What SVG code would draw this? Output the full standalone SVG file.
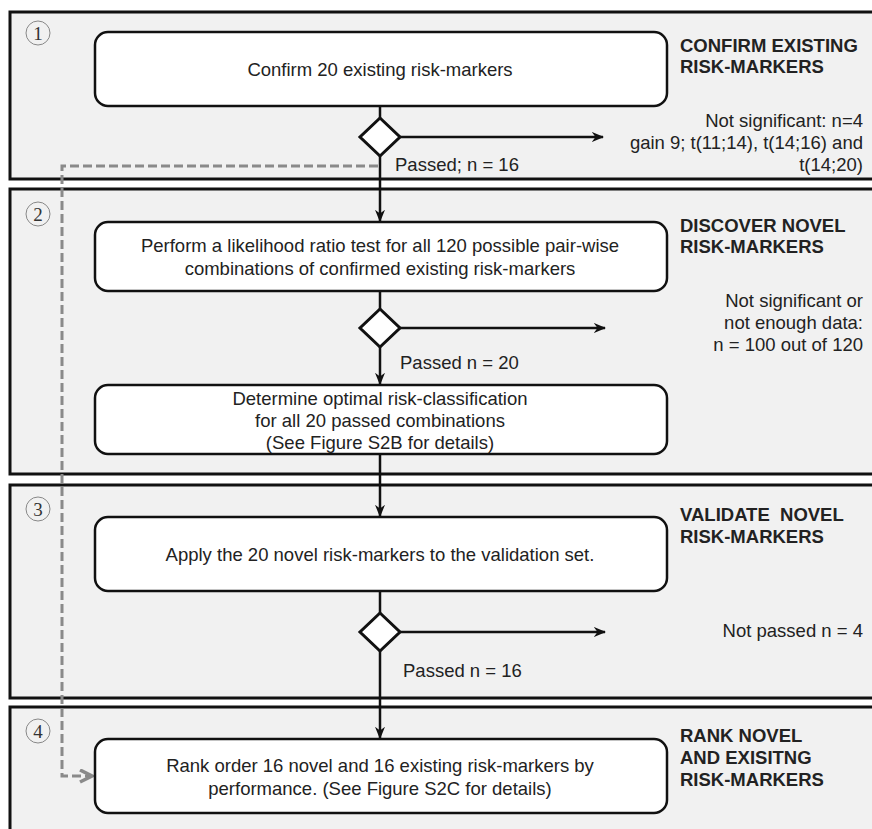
<svg xmlns="http://www.w3.org/2000/svg" width="872" height="829" viewBox="0 0 872 829">
<defs>
<marker id="ah" viewBox="0 0 10 10" refX="9" refY="5" markerWidth="5" markerHeight="5" orient="auto" markerUnits="strokeWidth">
<path d="M0,1 L10,5 L0,9 L3,5 z" fill="#111"/>
</marker>
<marker id="ahg" viewBox="0 0 10 10" refX="9" refY="5" markerWidth="5" markerHeight="5" orient="auto" markerUnits="strokeWidth">
<path d="M1,1 L9,5 L1,9" fill="none" stroke="#8a8a8a" stroke-width="2.4"/>
</marker>
</defs>
<style>
.panel{fill:#f1f1f1;stroke:#111;stroke-width:3}
.box{fill:#fff;stroke:#111;stroke-width:2.5}
.dia{fill:#fff;stroke:#111;stroke-width:3}
.t{font-family:"Liberation Sans",Arial,sans-serif;font-size:18.5px;fill:#222}
.c{text-anchor:middle}
.r{text-anchor:end}
.h{font-family:"Liberation Sans",Arial,sans-serif;font-size:18.5px;font-weight:bold;fill:#222}
.num{fill:none;stroke:#888;stroke-width:1}
.nt{font-family:"Liberation Serif","Times New Roman",serif;font-size:19px;fill:#333;text-anchor:middle}
.ln{fill:none;stroke:#111;stroke-width:2.5}
.arr{fill:none;stroke:#111;stroke-width:2.5;marker-end:url(#ah)}
.dash{fill:none;stroke:#8a8a8a;stroke-width:3;stroke-dasharray:9 4;marker-end:url(#ahg)}
</style>
<rect width="872" height="829" fill="#fff"/>
<g id="panel1">
<rect class="panel" x="10" y="12" width="870" height="167"/>
<circle class="num" cx="38" cy="33" r="12"/><text class="nt" x="38" y="39.5">1</text>
<text class="h" x="680" y="52">CONFIRM EXISTING</text>
<text class="h" x="680" y="73">RISK-MARKERS</text>
<text class="t r" x="863" y="127">Not significant: n=4</text>
<text class="t r" x="863" y="149">gain 9; t(11;14), t(14;16) and</text>
<text class="t r" x="863" y="171">t(14;20)</text>
</g>
<g id="panel2">
<rect class="panel" x="10" y="189" width="870" height="285"/>
<circle class="num" cx="38" cy="214" r="12"/><text class="nt" x="38" y="220.5">2</text>
<text class="h" x="680" y="232">DISCOVER NOVEL</text>
<text class="h" x="680" y="253">RISK-MARKERS</text>
<text class="t r" x="863" y="307">Not significant or</text>
<text class="t r" x="863" y="329">not enough data:</text>
<text class="t r" x="863" y="351">n = 100 out of 120</text>
</g>
<g id="panel3">
<rect class="panel" x="10" y="485" width="870" height="213"/>
<circle class="num" cx="38" cy="509" r="12"/><text class="nt" x="38" y="515.5">3</text>
<text class="h" x="680" y="521" xml:space="preserve">VALIDATE  NOVEL</text>
<text class="h" x="680" y="543">RISK-MARKERS</text>
<text class="t r" x="863" y="637">Not passed n = 4</text>
</g>
<g id="panel4">
<rect class="panel" x="10" y="707" width="870" height="130"/>
<circle class="num" cx="38" cy="731" r="12"/><text class="nt" x="38" y="737.5">4</text>
<text class="h" x="680" y="742">RANK NOVEL</text>
<text class="h" x="680" y="764">AND EXISITNG</text>
<text class="h" x="680" y="786">RISK-MARKERS</text>
</g>
<g id="connectors">
<line class="ln" x1="380" y1="106" x2="380" y2="118"/>
<line class="arr" x1="380" y1="156" x2="380" y2="221"/>
<line class="arr" x1="400" y1="137" x2="603" y2="137"/>
<line class="ln" x1="380" y1="291" x2="380" y2="309"/>
<line class="arr" x1="380" y1="347" x2="380" y2="384"/>
<line class="arr" x1="400" y1="328" x2="605" y2="328"/>
<line class="arr" x1="380" y1="454" x2="380" y2="516"/>
<line class="ln" x1="380" y1="591" x2="380" y2="613"/>
<line class="arr" x1="400" y1="632" x2="605" y2="632"/>
<line class="arr" x1="380" y1="651" x2="380" y2="738"/>
<path class="dash" d="M378,166 H62 V776 H92"/>
</g>
<g id="confirm">
<rect class="box" x="95" y="32" width="572" height="74" rx="13"/>
<text class="t c" x="380" y="76">Confirm 20 existing risk-markers</text>
</g>
<g id="decision1">
<polygon class="dia" points="380,118 400,137 380,156 360,137"/>
<text class="t" x="395" y="171">Passed; n = 16</text>
</g>
<g id="lrtest">
<rect class="box" x="95" y="222" width="572" height="69" rx="13"/>
<text class="t c" x="380" y="252">Perform a likelihood ratio test for all 120 possible pair-wise</text>
<text class="t c" x="380" y="275">combinations of confirmed existing risk-markers</text>
</g>
<g id="decision2">
<polygon class="dia" points="380,309 400,328 380,347 360,328"/>
<text class="t" x="400" y="369">Passed n = 20</text>
</g>
<g id="determine">
<rect class="box" x="95" y="385" width="572" height="69" rx="13"/>
<text class="t c" x="380" y="405">Determine optimal risk-classification</text>
<text class="t c" x="380" y="427">for all 20 passed combinations</text>
<text class="t c" x="380" y="449">(See Figure S2B for details)</text>
</g>
<g id="apply">
<rect class="box" x="95" y="517" width="572" height="74" rx="13"/>
<text class="t c" x="380" y="561">Apply the 20 novel risk-markers to the validation set.</text>
</g>
<g id="decision3">
<polygon class="dia" points="380,613 400,632 380,651 360,632"/>
<text class="t" x="403" y="677">Passed n = 16</text>
</g>
<g id="rank">
<rect class="box" x="95" y="739" width="572" height="74" rx="13"/>
<text class="t c" x="380" y="772">Rank order 16 novel and 16 existing risk-markers by</text>
<text class="t c" x="380" y="795">performance. (See Figure S2C for details)</text>
</g>
</svg>
